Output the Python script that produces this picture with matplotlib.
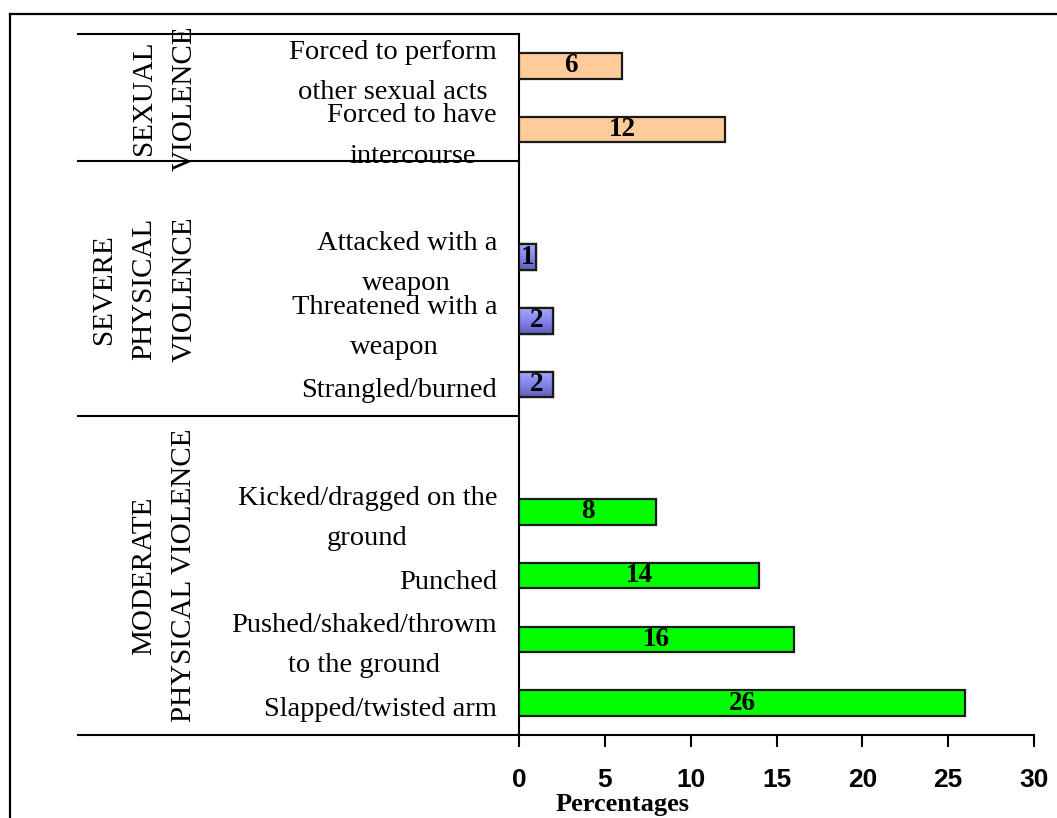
import numpy as np
import matplotlib
matplotlib.use("Agg")
import matplotlib.pyplot as plt
from matplotlib.colors import LinearSegmentedColormap
from matplotlib.lines import Line2D
from matplotlib.transforms import blended_transform_factory

# ---- data -------------------------------------------------------------
moderate_labels = ["Slapped/twisted arm", "Pushed/shaked/throwm\nto the ground",
                   "Punched", "Kicked/dragged on the\nground"]
moderate_values = [26, 16, 14, 8]

severe_labels = ["Strangled/burned", "Threatened with a\nweapon",
                 "Attacked with a\nweapon"]
severe_values = [2, 2, 1]

sexual_labels = ["Forced to have\nintercourse", "Forced to perform\nother sexual acts"]
sexual_values = [12, 6]

group_names = ["MODERATE\nPHYSICAL VIOLENCE", "SEVERE\nPHYSICAL\nVIOLENCE",
               "SEXUAL\nVIOLENCE"]
x_ticks = [0, 5, 10, 15, 20, 25, 30]
x_label = "Percentages"

# ---- layout -----------------------------------------------------------
W, H = 1057, 818
SERIF = "Liberation Serif"
SANS = "Liberation Sans"

fig = plt.figure(figsize=(W / 100, H / 100), dpi=100)
ax = fig.add_axes([519 / W, 1 - 735 / H, (1034 - 519) / W, (735 - 34) / H])

# each group occupies consecutive slots, with one empty slot above it
mod_pos = np.arange(len(moderate_values))              # 0..3
sev_pos = np.arange(len(severe_values)) + 5            # 5..7
sex_pos = np.arange(len(sexual_values)) + 9            # 9..10
group_bounds = [(-0.5, 4.5), (4.5, 8.5), (8.5, 10.5)]

bar_h = 0.4
edge = "#1a1a1a"
edge_w = 1.6

ax.barh(mod_pos, moderate_values, height=bar_h, color="#00FF00",
        edgecolor=edge, linewidth=edge_w, zorder=3)
ax.barh(sex_pos, sexual_values, height=bar_h, color="#FFCC99",
        edgecolor=edge, linewidth=edge_w, zorder=3)
sev_bars = ax.barh(sev_pos, severe_values, height=bar_h, color="#8585EE",
                   edgecolor=edge, linewidth=edge_w, zorder=3)

# shaded fill for the severe-violence bars
grad_cmap = LinearSegmentedColormap.from_list(
    "blueshade", ["#6060BC", "#8484EC", "#A8A8FF"])
grad = np.linspace(0, 1, 64).reshape(-1, 1)
for rect, y, v in zip(sev_bars, sev_pos, severe_values):
    im = ax.imshow(grad, cmap=grad_cmap, aspect="auto", origin="lower",
                   extent=[0, v, y - bar_h / 2, y + bar_h / 2], zorder=3.5)
    im.set_clip_path(rect)
    ax.barh([y], [v], height=bar_h, color="none", edgecolor=edge,
            linewidth=edge_w, zorder=4)

# value labels inside the bars
for pos, vals in ((mod_pos, moderate_values), (sev_pos, severe_values),
                  (sex_pos, sexual_values)):
    for y, v in zip(pos, vals):
        ax.text(v / 2, y, str(v), ha="center", va="center", fontsize=19.5,
                fontweight="bold", family=SERIF, zorder=5)

ax.set_xlim(0, 30)
ax.set_ylim(-0.5, 10.5)
ax.set_xticks(x_ticks)
ax.set_xticklabels([str(t) for t in x_ticks], fontsize=19, fontweight="bold",
                   family=SANS)
ax.set_yticks([])
ax.tick_params(axis="x", direction="out", length=8.5, width=1.5, pad=15)
for s in ("top", "right"):
    ax.spines[s].set_visible(False)
for s in ("left", "bottom"):
    ax.spines[s].set_linewidth(1.5)

# category labels, right-aligned left of the axis
lab_tr = blended_transform_factory(fig.transFigure, ax.transData)
for pos, labels in ((mod_pos, moderate_labels), (sev_pos, severe_labels),
                    (sex_pos, sexual_labels)):
    for y, lab in zip(pos, labels):
        fig.text(497 / W, y - 0.1, lab, transform=lab_tr, ha="right",
                 va="center", multialignment="center", fontsize=20.5,
                 family=SERIF, linespacing=1.8)

# group dividers and group names
line_x = [78 / W, 519 / W]
for yv in (-0.5, 4.5, 8.5, 10.5):
    fig.add_artist(Line2D(line_x, [yv, yv], transform=lab_tr, color="black",
                          linewidth=1.5))

group_x = [164, 144, 164]
for (lo, hi), name, gx in zip(group_bounds, group_names, group_x):
    fig.text(gx / W, (lo + hi) / 2, name, transform=lab_tr, rotation=90,
             ha="center", va="center", multialignment="center",
             fontsize=21, family=SERIF, linespacing=1.72)

fig.text(623 / W, 1 - 811 / H, x_label, ha="center", va="baseline",
         fontsize=19, fontweight="bold", family=SERIF)

# outer frame (left and top edges)
fig.add_artist(Line2D([10 / W, 10 / W], [-0.05, 1 - 14 / H],
                      transform=fig.transFigure, color="black", linewidth=1.6))
fig.add_artist(Line2D([10 / W, 1.05], [1 - 14 / H, 1 - 14 / H],
                      transform=fig.transFigure, color="black", linewidth=1.6))

fig.savefig("out.png", dpi=100)
